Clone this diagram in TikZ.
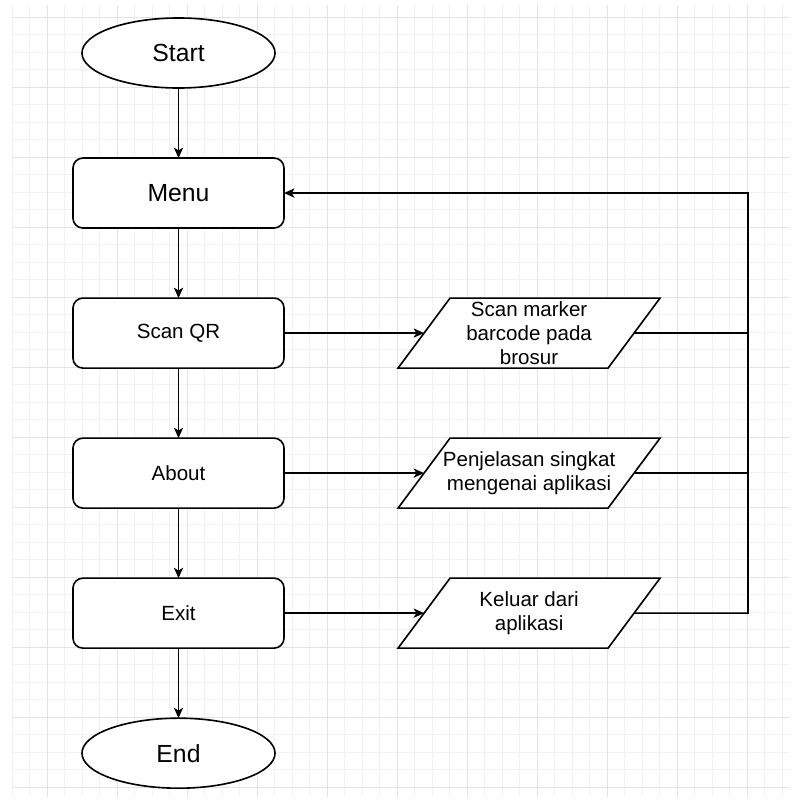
\documentclass[tikz,border=0pt]{standalone}
\usepackage{fontspec}
\setmainfont{Liberation Sans}
\usetikzlibrary{shapes.geometric,positioning,arrows.meta,backgrounds}

\begin{document}
\begin{tikzpicture}
			[x=0.025cm,y=-0.025cm,
			node distance=1.75cm,
			every node/.style={draw,fill=white,line width=1.15pt,outer sep=0pt,font=\fontsize{14.6}{17}\selectfont},
			bigtext/.style={font=\fontsize{17.6}{21}\selectfont},
			terminal/.style={ellipse,bigtext,minimum width=4.825cm,minimum height=1.75cm},
			menubox/.style={rectangle,rounded corners=0.25cm,minimum width=5.275cm,minimum height=1.75cm},
			iobox/.style={draw=none,fill=none,minimum width=5.25cm,minimum height=1.75cm,align=center,inner sep=0pt},
			link/.style={line width=1.15pt},
			flow/.style={link,-{Stealth[length=2.6mm,width=2.3mm,inset=0.7mm]}},
			gridminor/.style={draw=black!5,line width=0.7pt},
			gridmajor/.style={draw=black!11,line width=0.7pt}]
			\useasboundingbox (0,0) rectangle (798,803);
			\node[terminal] (start) at (178.5,53) {Start};
			\node[menubox,bigtext,below=of start] (menu) {Menu};
			\node[menubox,below=of menu] (scanqr) {Scan QR};
			\node[menubox,below=of scanqr] (about) {About};
			\node[menubox,below=of about] (exit) {Exit};
			\node[terminal,below=of exit] (end) {End};
			\node[iobox,right=3.5cm of scanqr] (scanio) {Scan marker\\barcode pada\\brosur};
			\node[iobox,right=3.5cm of about] (aboutio) {Penjelasan singkat\\mengenai aplikasi};
			\node[iobox,right=3.5cm of exit] (exitio) {Keluar dari\\aplikasi};
			\coordinate (back) at (748,193);
			\begin{scope}[on background layer]
				\foreach \i in {0,...,44}
					\draw[gridminor] (12+17.5*\i,5) -- (12+17.5*\i,797);
				\foreach \j in {0,...,44}
					\draw[gridminor] (12,17+17.5*\j) -- (790,17+17.5*\j);
				\foreach \i in {0,...,10}
					\draw[gridmajor] (47+70*\i,5) -- (47+70*\i,797);
				\foreach \j in {0,...,11}
					\draw[gridmajor] (12,17+70*\j) -- (790,17+70*\j);
				\foreach \n in {scanio,aboutio,exitio}
					\draw[link,fill=white] (\n.south west) ++(-26,0) -- ++(52,-70) -- ++(210,0) -- ++(-52,70) -- cycle;
			\end{scope}
			\draw[flow] (start) -- (menu);
			\draw[flow] (menu) -- (scanqr);
			\draw[flow] (scanqr) -- (about);
			\draw[flow] (about) -- (exit);
			\draw[flow] (exit) -- (end);
			\draw[flow] (scanqr) -- (scanio);
			\draw[flow] (about) -- (aboutio);
			\draw[flow] (exit) -- (exitio);
			\draw[link] (scanio.east) -- (scanio.east -| back);
			\draw[link] (aboutio.east) -- (aboutio.east -| back);
			\draw[flow] (exitio.east) -| (back) -- (menu.east);
		\end{tikzpicture}
\end{document}
